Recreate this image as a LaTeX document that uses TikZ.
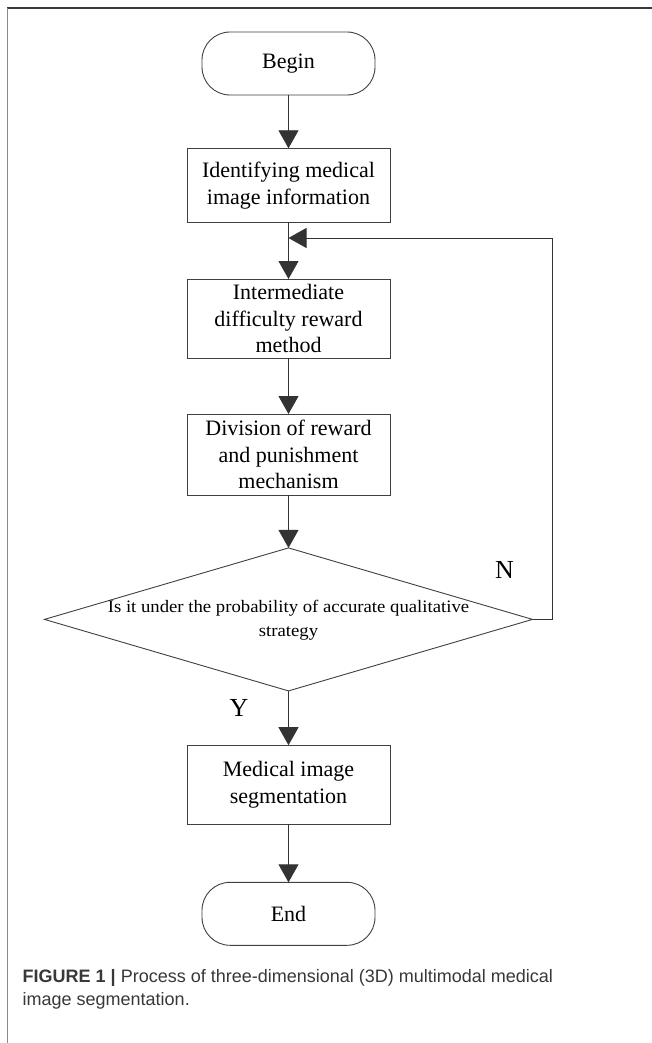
\documentclass[tikz,border=0pt]{standalone}
\usepackage{fontspec}
\setmainfont{Liberation Serif}
\newfontfamily\boxfont{Liberation Serif}
\newfontfamily\diafont[FakeStretch=1.07]{Liberation Serif}
\newfontfamily\capfont{Liberation Sans}
\usetikzlibrary{arrows.meta,shapes.geometric}
\definecolor{linegray}{HTML}{333333}
\definecolor{boxgray}{HTML}{404040}
\definecolor{frametop}{HTML}{3A3A3A}
\definecolor{frameleft}{HTML}{8A8A8A}
\definecolor{captext}{HTML}{383838}
\begin{document}
\begin{tikzpicture}[x=1pt,y=-1pt,
  every node/.style={inner sep=0pt,outer sep=0pt},
  proc/.style={draw=boxgray,line width=0.9pt,minimum width=203pt,align=center,
    font=\boxfont\fontsize{22}{26.7}\selectfont},
  term/.style={draw=boxgray,line width=0.9pt,rounded corners=28pt,minimum width=173pt,
    minimum height=63pt,font=\boxfont\fontsize{22}{26.7}\selectfont},
  decision/.style={diamond,draw=boxgray,line width=0.9pt,minimum width=488pt,minimum height=143pt},
  flow/.style={draw=linegray,line width=0.9pt,-{Triangle[width=20pt,length=18pt]}},
  lbl/.style={font=\boxfont\fontsize{26}{30}\selectfont}
]
\useasboundingbox (0,0) rectangle (652,1043);
\fill[white] (0,0) rectangle (652,1043);
% frame
\draw[frametop,line width=1.6pt] (7.3,8.3) -- (652,8.3);
\draw[frameleft,line width=1.6pt] (7.3,8.3) -- (7.3,1043);

\node[term] (begin) at (288.5,63.5) {Begin};
\node[proc,minimum height=74pt] (b1) at (288.5,185.3) {Identifying medical\\image information};
\node[proc,minimum height=79pt] (b2) at (288.5,318.5) {Intermediate\\difficulty reward\\method};
\node[proc,minimum height=81pt] (b3) at (288.5,454.5) {Division of reward\\and punishment\\mechanism};
\node[decision] (dia) at (288.5,619.4) {};
\node[align=center,font=\diafont\fontsize{17.5}{24}\selectfont] (diatext) at (288.5,620)
  {Is it under the probability of accurate qualitative\\strategy};
\node[proc,minimum height=79pt] (b4) at (288.5,784.7) {Medical image\\segmentation};
\node[term,minimum height=63pt] (end) at (288.5,913.8) {End};

\coordinate (fb1) at (552.7,619.4);
\coordinate (fb2) at (552.7,238);
\coordinate (join) at (288.5,238);

\draw[flow] (begin.south) -- (b1.north);
\draw[flow] (b1.south) -- (b2.north);
\draw[flow] (b2.south) -- (b3.north);
\draw[flow] (b3.south) -- (dia.north);
\draw[flow] (dia.south) -- (b4.north);
\draw[flow] (b4.south) -- (end.north);
\draw[flow] (dia.east) -- (fb1) -- (fb2) -- (join);

\node[lbl] (nlab) at (504.5,569.5) {N};
\node[lbl] (ylab) at (239,707.7) {Y};

\node[anchor=base west,align=left,text=captext,font=\capfont\fontsize{18}{23}\selectfont] (cap) at (22.7,1005.5)
  {{\bfseries FIGURE 1 |} Process of three-dimensional (3D) multimodal medical\\image segmentation.};
\end{tikzpicture}
\end{document}
